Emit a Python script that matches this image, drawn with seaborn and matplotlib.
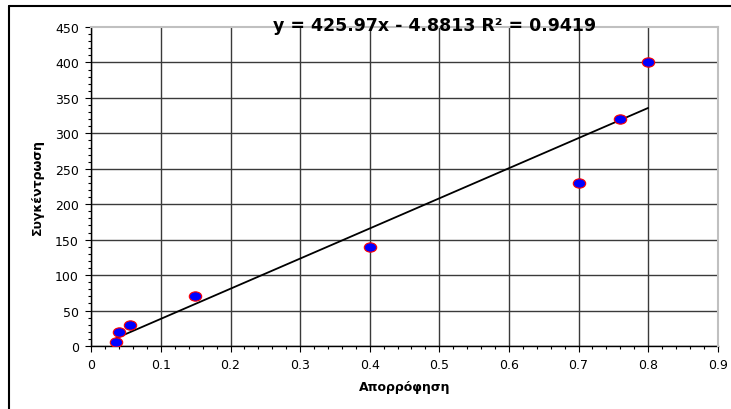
import numpy as np
import pandas as pd
import matplotlib
matplotlib.use("Agg")
import matplotlib.pyplot as plt
from matplotlib.path import Path
from matplotlib.lines import Line2D
from matplotlib.ticker import MultipleLocator
import seaborn as sns

# Data
absorbance = [0.036, 0.040, 0.055, 0.149, 0.400, 0.700, 0.760, 0.800]
concentration = [6, 20, 30, 70, 140, 230, 320, 400]
x_ticks = [0, 0.1, 0.2, 0.3, 0.4, 0.5, 0.6, 0.7, 0.8, 0.9]
x_tick_labels = ["0", "0.1", "0.2", "0.3", "0.4", "0.5", "0.6", "0.7", "0.8", "0.9"]
y_ticks = [0, 50, 100, 150, 200, 250, 300, 350, 400, 450]
equation_text = "y = 425.97x - 4.8813 R² = 0.9419"
x_label = "Απορρόφηση"
y_label = "Συγκέντρωση"

df = pd.DataFrame({"x": absorbance, "y": concentration})

sns.set_theme(style="white")
plt.rcParams["font.family"] = ["DejaVu Sans"]

fig = plt.figure(figsize=(7.31, 4.10), dpi=100)
fig.patch.set_facecolor("white")
ax = fig.add_axes([91.3 / 731, 1 - 347 / 410, (717.7 - 91.3) / 731, (347 - 28) / 410])
ax.set_facecolor("white")

# elliptical marker (slightly wider than tall)
circ = Path.unit_circle()
ell = Path(circ.vertices * np.array([1.0, 0.75]), circ.codes)

sns.regplot(data=df, x="x", y="y", scatter=False, ci=None, truncate=True,
            line_kws=dict(color="black", lw=1.3, zorder=3), ax=ax)
sns.scatterplot(data=df, x="x", y="y", marker=ell, s=80, color="#0000FF",
                edgecolor="#FF0000", linewidth=0.8, zorder=4, ax=ax, legend=False)

ax.set_xlim(0, 0.9)
ax.set_ylim(0, 450)
ax.set_xticks(x_ticks)
ax.set_xticklabels(x_tick_labels)
ax.set_yticks(y_ticks)
ax.xaxis.set_minor_locator(MultipleLocator(0.02))
ax.yaxis.set_minor_locator(MultipleLocator(10))

ax.tick_params(axis="both", which="major", direction="out", length=4, width=0.8,
               color="black", labelsize=9, labelcolor="black", pad=5)
ax.tick_params(axis="both", which="minor", direction="out", length=2.5, width=0.8,
               color="black")
ax.tick_params(axis="x", which="both", bottom=True)
ax.tick_params(axis="y", which="both", left=True)

ax.grid(True, which="major", axis="both", color="#3a3a3a", lw=1.0, zorder=0)
ax.set_axisbelow(True)

for side in ["left", "bottom"]:
    ax.spines[side].set_color("black")
    ax.spines[side].set_linewidth(1.0)
for side in ["top", "right"]:
    ax.spines[side].set_color("#c0c0c0")
    ax.spines[side].set_linewidth(1.5)
    ax.spines[side].set_zorder(5)

# hide gridlines at the upper limits (the light frame shows there instead)
xt = ax.xaxis.get_major_ticks()
yt = ax.yaxis.get_major_ticks()
xt[-1].gridline.set_visible(False)
yt[-1].gridline.set_visible(False)

ax.set_xlabel(x_label, fontsize=9, fontweight="bold", color="black", labelpad=6)
ax.set_ylabel(y_label, fontsize=9, fontweight="bold", color="black", labelpad=8)

fig.text(435 / 731, 1 - 26 / 410, equation_text, ha="center", va="center",
         fontsize=12.5, fontweight="bold", color="black", zorder=6)

# outer chart frame (top and left edges visible)
fig.add_artist(Line2D([9 / 731, 1.0], [1 - 7 / 410, 1 - 7 / 410],
                      transform=fig.transFigure, color="black", lw=1.5))
fig.add_artist(Line2D([9 / 731, 9 / 731], [0.0, 1 - 7 / 410],
                      transform=fig.transFigure, color="black", lw=1.5))

fig.savefig("out.png", dpi=100)
